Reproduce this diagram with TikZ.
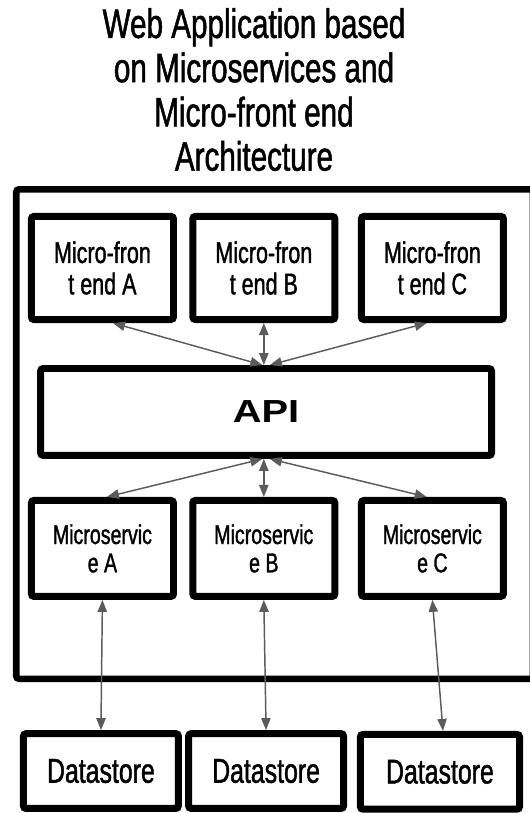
\documentclass[tikz,border=0pt]{standalone}
\usepackage{fontspec}
\setmainfont[FakeStretch=0.72, FakeBold=1.2]{Liberation Sans}
\newfontfamily\apifont[FakeStretch=1.25]{Liberation Sans}
\usetikzlibrary{arrows.meta}
\definecolor{linkgray}{HTML}{5B5B5B}
\tikzset{
  box/.style={draw=black, line width=5.25pt, rounded corners=2pt, fill=white, align=center, inner sep=0pt},
  mfbox/.style={box, minimum width=3.76cm, minimum height=2.73cm, font=\fontsize{22.5}{23.6}\selectfont},
  msbox/.style={box, minimum width=3.76cm, minimum height=2.54cm, font=\fontsize{20.5}{21.3}\selectfont},
  dsbox/.style={box, minimum height=1.98cm, font=\fontsize{26}{28}\selectfont},
  link/.style={draw=linkgray, line width=1.1pt, {Triangle[length=9pt,width=7pt]}-{Triangle[length=9pt,width=7pt]}},
}
\begin{document}
\begin{tikzpicture}
\useasboundingbox (0,0) rectangle (14,21.51);
% title
\node[align=center, font=\fontsize{31}{33.3}\selectfont] (title) at (6.72,19.14) {Web Application based\\on Microservices and\\Micro-front end\\Architecture};
% outer frame
\draw[line width=4.9pt, rounded corners=2pt] (0.43,3.55) rectangle (14.1,16.5);
% micro front ends
\node[mfbox] (mfA) at (2.71,14.42) {Micro-fron\\t end A};
\node[mfbox] (mfB) at (6.98,14.42) {Micro-fron\\t end B};
\node[mfbox] (mfC) at (11.44,14.42) {Micro-fron\\t end C};
% api
\node[box, minimum width=11.93cm, minimum height=2.30cm, font=\apifont\bfseries\fontsize{24}{26}\selectfont] (api) at (7.04,10.61) {API};
% microservices
\node[msbox] (msA) at (2.71,7.00) {Microservic\\e A};
\node[msbox] (msB) at (6.98,7.00) {Microservic\\e B};
\node[msbox] (msC) at (11.44,7.00) {Microservic\\e C};
% datastores
\node[dsbox, minimum width=4.10cm] (dsA) at (2.67,1.11) {Datastore};
\node[dsbox, minimum width=4.10cm] (dsB) at (7.04,1.11) {Datastore};
\node[dsbox, minimum width=4.21cm] (dsC) at (11.64,1.09) {Datastore};
% links
\draw[link] ([xshift=0.28cm]mfA.south) -- ([xshift=-0.1cm]api.north);
\draw[link] (mfB.south) -- (mfB.south |- api.north);
\draw[link] ([xshift=-0.15cm]mfC.south) -- ([xshift=0.1cm]api.north);
\draw[link] ([xshift=-0.1cm]api.south) -- ([xshift=0.12cm]msA.north);
\draw[link] (msB.north |- api.south) -- (msB.north);
\draw[link] ([xshift=0.1cm]api.south) -- ([xshift=-0.15cm]msC.north);
\draw[link] (msA.south) -- (dsA.north);
\draw[link] (msB.south) -- (dsB.north);
\draw[link] (msC.south) -- ([xshift=0.08cm]dsC.north);
\end{tikzpicture}
\end{document}
